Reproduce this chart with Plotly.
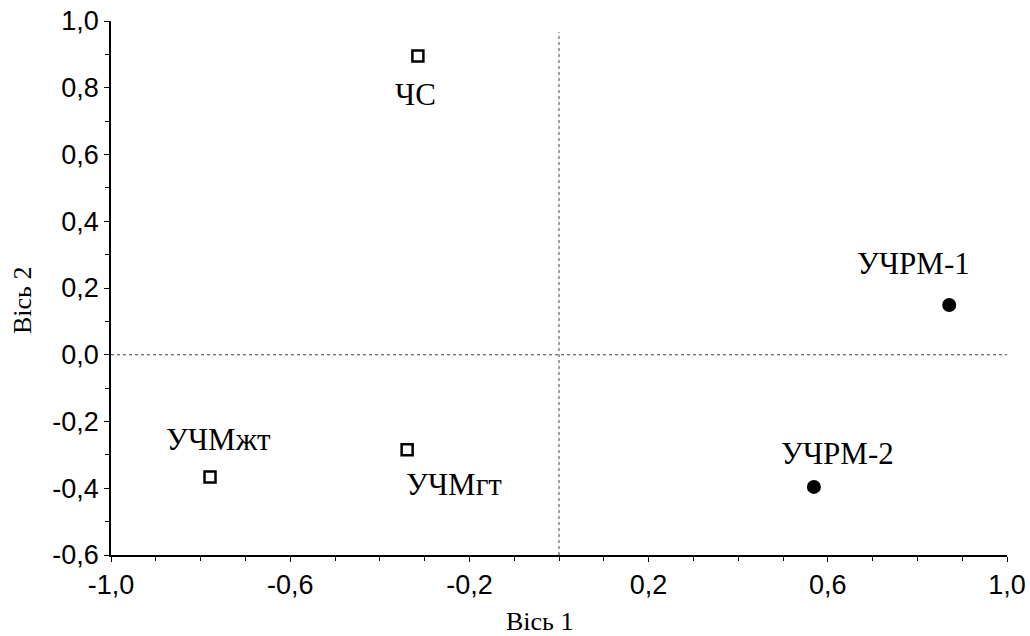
import plotly.graph_objects as go

# Data
labels_sq = ["ЧС", "УЧМжт", "УЧМгт"]
x_sq = [-0.315, -0.779, -0.339]
y_sq = [0.895, -0.366, -0.285]

labels_ci = ["УЧРМ-1", "УЧРМ-2"]
x_ci = [0.871, 0.569]
y_ci = [0.149, -0.396]

x_tickvals = [-1.0, -0.6, -0.2, 0.2, 0.6, 1.0]
x_ticktext = ["-1,0", "-0,6", "-0,2", "0,2", "0,6", "1,0"]
y_tickvals = [-0.6, -0.4, -0.2, 0.0, 0.2, 0.4, 0.6, 0.8, 1.0]
y_ticktext = ["-0,6", "-0,4", "-0,2", "0,0", "0,2", "0,4", "0,6", "0,8", "1,0"]

x_title = "Вісь 1"
y_title = "Вісь 2"

# label offsets (pixels)
sq_shift = [(-2, -38), (8, 37), (47, -35)]
ci_shift = [(-36, 42), (24, 33)]

fig = go.Figure()
fig.add_trace(go.Scatter(
    x=x_sq, y=y_sq, mode="markers",
    marker=dict(symbol="square-open", size=11, color="black", line=dict(width=2.5)),
    showlegend=False, cliponaxis=False, hoverinfo="skip"))
fig.add_trace(go.Scatter(
    x=x_ci, y=y_ci, mode="markers",
    marker=dict(symbol="circle", size=14, color="black"),
    showlegend=False, cliponaxis=False, hoverinfo="skip"))

lab_font = dict(family="Liberation Serif, Times New Roman, serif", size=31, color="black")
for lab, xx, yy, (dx, dy) in zip(labels_sq + labels_ci, x_sq + x_ci, y_sq + y_ci, sq_shift + ci_shift):
    fig.add_annotation(x=xx, y=yy, text=lab, showarrow=False, xshift=dx, yshift=dy, font=lab_font)

title_font = dict(family="Liberation Serif, Times New Roman, serif", size=26, color="black")
fig.add_annotation(x=0.478, y=-0.125, xref="paper", yref="paper", text=x_title,
                   showarrow=False, font=title_font, xanchor="center", yanchor="middle")
fig.add_annotation(x=-0.098, y=0.476, xref="paper", yref="paper", text=y_title, textangle=-90,
                   showarrow=False, font=title_font, xanchor="center", yanchor="middle")

# reference lines
fig.add_shape(type="line", x0=0, x1=0, y0=0, y1=0.979, xref="x", yref="paper",
              line=dict(color="#444444", width=1, dash="dot"))
fig.add_shape(type="line", x0=0, x1=1, y0=0, y1=0, xref="paper", yref="y",
              line=dict(color="#444444", width=1, dash="dot"))

tick_font = dict(family="Liberation Sans, Arial, sans-serif", size=27, color="black")

fig.update_xaxes(range=[-1.0, 1.0], tickvals=x_tickvals, ticktext=x_ticktext, automargin=False,
                 showgrid=False, zeroline=False, showline=True, linecolor="black", linewidth=1.5,
                 ticks="outside", ticklen=5, tickcolor="black", tickfont=tick_font,
                 minor=dict(tickvals=[i / 10 for i in range(-10, 11)], ticks="outside", ticklen=4, tickcolor="black"))
fig.update_yaxes(range=[-0.6, 1.0], tickvals=y_tickvals, ticktext=y_ticktext, automargin=False,
                 showgrid=False, zeroline=False, showline=True, linecolor="black", linewidth=1.5,
                 ticks="outside", ticklen=5, tickcolor="black", tickfont=tick_font,
                 minor=dict(tickvals=[i / 10 for i in range(-6, 11)], ticks="outside", ticklen=4, tickcolor="black"))

fig.update_layout(width=1030, height=636, margin=dict(l=111, r=23, t=21, b=81),
                  plot_bgcolor="white", paper_bgcolor="white", hovermode=False)
fig.write_html("out.html", config={"displayModeBar": False},
               post_script="document.body.style.margin='0';document.body.style.overflow='hidden';")
